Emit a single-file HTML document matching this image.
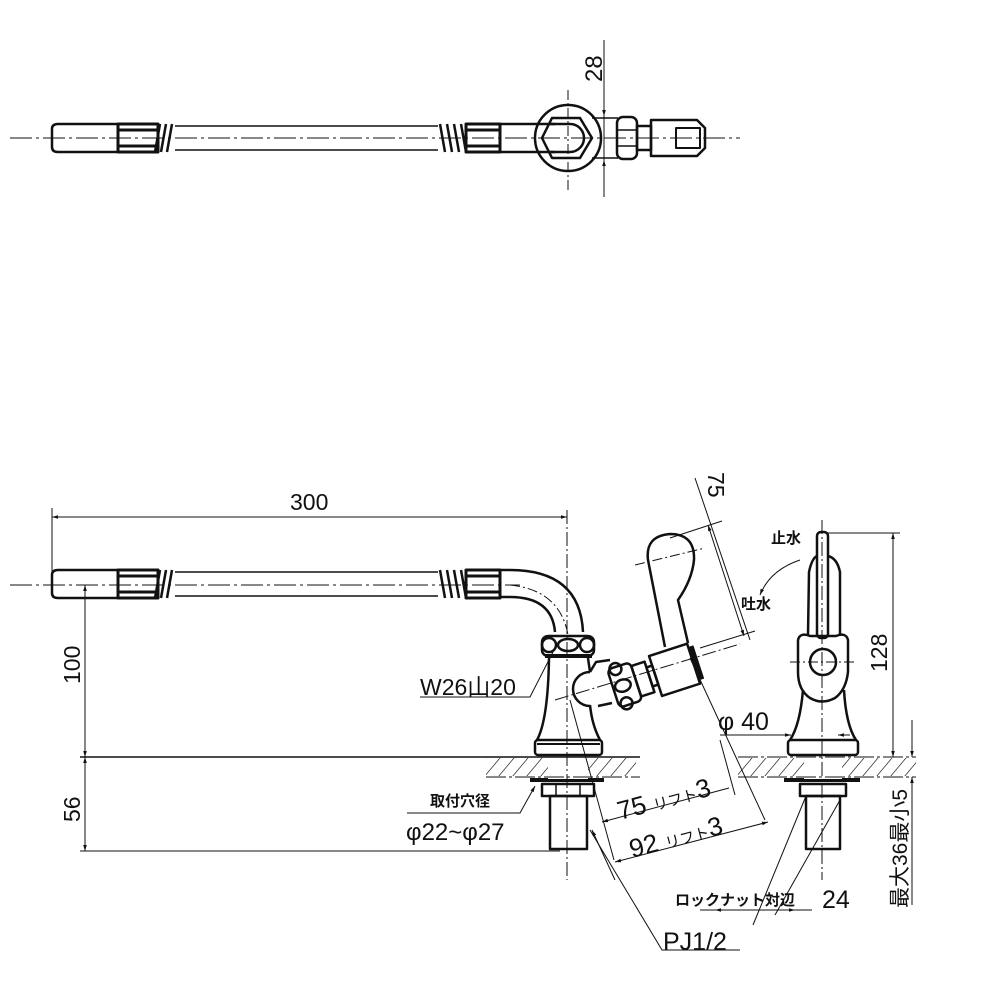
<!DOCTYPE html>
<html><head><meta charset="utf-8"><style>
html,body{margin:0;padding:0;background:#fff;}
svg{display:block;}
text{font-family:"Liberation Sans","Noto Sans CJK JP",sans-serif;fill:#111;}
</style></head><body>
<svg width="1000" height="1000" viewBox="0 0 1000 1000" xmlns="http://www.w3.org/2000/svg">
<defs>
<marker id="a" viewBox="0 0 10 10" refX="10" refY="5" markerWidth="10" markerHeight="6" orient="auto-start-reverse"><path d="M0,2 L10,5 L0,8 z" fill="#111"/></marker>
<pattern id="h" width="14" height="20" patternUnits="userSpaceOnUse" patternTransform="skewX(-40)"><line x1="2" y1="0" x2="2" y2="20" stroke="#333" stroke-width="1"/></pattern>
</defs>
<g fill="none" stroke="#111" stroke-width="3" stroke-linejoin="round">
<!-- TOP VIEW -->
<path d="M58,124 h60 v28 h-60 q-6,0 -6,-5 v-18 q0,-5 6,-5z" stroke-width="2.5"/>
<rect x="118" y="124" width="40" height="28" fill="#fff"/>
<line x1="118" y1="130" x2="158" y2="130" stroke-width="3"/><line x1="118" y1="146" x2="158" y2="146" stroke-width="3"/>
<path d="M160,124 l-5,28 M166,124 l-5,28 M172,124 l-5,28" stroke-width="2.5"/>
<line x1="175" y1="126" x2="438" y2="126" stroke-width="1.5"/><line x1="175" y1="150" x2="438" y2="150" stroke-width="1.5"/>
<path d="M440,124 l5,28 M447,124 l5,28 M454,124 l5,28 M461,124 l5,28" stroke-width="2.5"/>
<rect x="466" y="124" width="34" height="28"/>
<line x1="466" y1="130" x2="500" y2="130"/><line x1="466" y1="146" x2="500" y2="146"/>
<line x1="500" y1="124" x2="555" y2="124" stroke-width="2.5"/><line x1="500" y1="152" x2="555" y2="152" stroke-width="2.5"/>
<circle cx="568" cy="138" r="33" stroke-width="2.5"/>
<path d="M552,118 h28 l12,20 l-12,20 h-28 l-10,-20z" stroke-width="2.5"/>
<path d="M550,124 h20 a14,14 0 0 1 0,28 h-20" stroke-width="2.5"/>
<line x1="592" y1="118" x2="618" y2="118" stroke-width="1.5"/><line x1="592" y1="158" x2="618" y2="158" stroke-width="1.5"/>
<rect x="617" y="117" width="20" height="42" rx="6" stroke-width="2.5"/>
<path d="M617,130 h20 M617,146 h20" stroke-width="1.5"/>
<rect x="637" y="126" width="14" height="24" stroke-width="2.5"/>
<path d="M651,120 h46 l8,8 v20 l-8,8 h-46z" stroke-width="2.5"/>
<rect x="676" y="128" width="24" height="20" stroke-width="2"/>
</g>
<g stroke="#111" stroke-width="1" fill="none">
<line x1="10" y1="138" x2="740" y2="138" stroke-dasharray="22,4,3,4"/>
<line x1="568" y1="90" x2="568" y2="190" stroke-dasharray="10,3,2,3"/>
<line x1="604" y1="40" x2="604" y2="197"/>
<line x1="604" y1="80" x2="604" y2="116" marker-end="url(#a)"/>
<line x1="604" y1="196" x2="604" y2="160" marker-end="url(#a)"/>
</g>
<text x="0" y="0" font-size="24" transform="translate(602,82) rotate(-90)">28</text>

<!-- FRONT VIEW -->
<g fill="none" stroke="#111" stroke-width="3" stroke-linejoin="round">
<path d="M58,570 h60 v28 h-60 q-6,0 -6,-5 v-18 q0,-5 6,-5z" stroke-width="2.5"/>
<rect x="118" y="570" width="40" height="28"/>
<line x1="118" y1="576" x2="158" y2="576"/><line x1="118" y1="592" x2="158" y2="592"/>
<path d="M160,570 l-5,28 M166,570 l-5,28 M172,570 l-5,28" stroke-width="2.5"/>
<line x1="175" y1="572" x2="438" y2="572" stroke-width="1.5"/><line x1="175" y1="596" x2="438" y2="596" stroke-width="1.5"/>
<path d="M440,570 l5,28 M447,570 l5,28 M454,570 l5,28 M461,570 l5,28" stroke-width="2.5"/>
<rect x="466" y="570" width="34" height="28"/>
<line x1="466" y1="576" x2="500" y2="576"/><line x1="466" y1="592" x2="500" y2="592"/>
<path d="M500,570 h10 q70,0 73,62 M500,597 h10 q42,0 45,35" stroke-width="2.5"/>
<rect x="542" y="636" width="52" height="20" rx="6" stroke-width="2.5"/>
<circle cx="549" cy="645" r="7" stroke-width="2.5"/><circle cx="587" cy="645" r="7" stroke-width="2.5"/>
<ellipse cx="568" cy="645" rx="10" ry="6" stroke-width="2.5"/>
<line x1="545" y1="656" x2="592" y2="656" stroke-width="4"/>
<path d="M549,658 Q548,720 537,740 M588,658 L590,672 M590,705 Q592,725 600,740" stroke-width="2.5"/>
<path d="M590,672 A17,17 0 0 0 590,706" stroke-width="2.5"/>
<rect x="535" y="740" width="67" height="15" rx="3" stroke-width="2.5"/>
<line x1="537" y1="744" x2="600" y2="744" stroke-width="2"/>
<path d="M590,672 L596,662 L610,660" stroke-width="2.5"/>
<path d="M598,706 L612,703" stroke-width="2.5"/>
<g transform="rotate(-18 640 680)">
<rect x="612" y="660" width="24" height="40" rx="5" stroke-width="2.5"/>
<circle cx="620" cy="662" r="6" stroke-width="2.5"/><circle cx="620" cy="698" r="6" stroke-width="2.5"/>
<ellipse cx="622" cy="680" rx="8" ry="6" stroke-width="2.5"/>
<rect x="636" y="664" width="14" height="32" stroke-width="2.5"/>
<rect x="650" y="670" width="6" height="20" stroke-width="2.5"/>
<rect x="656" y="660" width="40" height="42" stroke-width="2.5"/>
<rect x="696" y="664" width="5" height="34" fill="#111" stroke-width="1"/>
</g>
<path d="M665,647 L648,560 Q645,536 670,534 Q695,534 694,560 Q692,580 678,600 L688,643" stroke-width="2.5"/>
<line x1="530" y1="780" x2="604" y2="780" stroke-width="4"/>
<rect x="542" y="784" width="52" height="12" stroke-width="2.5"/>
<line x1="556" y1="784" x2="556" y2="796" stroke-width="1.5"/><line x1="580" y1="784" x2="580" y2="796" stroke-width="1.5"/>
<rect x="550" y="796" width="37" height="53" stroke-width="2.5"/>
<line x1="555" y1="757" x2="555" y2="778" stroke-width="2"/><line x1="582" y1="757" x2="582" y2="778" stroke-width="2"/>

<!-- SIDE VIEW -->
<rect x="817" y="532" width="11" height="106" rx="4" stroke-width="2.5"/>
<path d="M808,635 L809,572 Q812,558 817,556 M828,556 Q837,558 840,572 L840,635" stroke-width="2.5"/>
<path d="M798,640 Q800,632 810,636 L836,636 Q846,632 848,640 L848,672 Q846,690 835,698 Q822,705 810,698 Q798,690 798,672z" stroke-width="2.5"/>
<circle cx="823" cy="662" r="13" stroke-width="2.5"/>
<path d="M803,690 Q800,725 790,740 M844,690 Q846,725 856,740" stroke-width="2.5"/>
<rect x="788" y="740" width="70" height="15" rx="3" stroke-width="2.5"/>
<line x1="784" y1="780" x2="860" y2="780" stroke-width="4"/>
<rect x="800" y="784" width="46" height="12" stroke-width="2.5"/>
<rect x="806" y="796" width="34" height="53" stroke-width="2.5"/>
<line x1="809" y1="757" x2="809" y2="778" stroke-width="2"/><line x1="837" y1="757" x2="837" y2="778" stroke-width="2"/>
</g>

<rect x="486" y="758" width="150" height="18" fill="url(#h)"/>
<rect x="738" y="758" width="178" height="18" fill="url(#h)"/>
<rect x="548" y="757" width="40" height="22" fill="#fff"/>
<rect x="804" y="757" width="38" height="22" fill="#fff"/>
<g stroke="#111" stroke-width="1" fill="none">
<line x1="80" y1="757" x2="640" y2="757" stroke-width="1.5"/>
<line x1="486" y1="777" x2="640" y2="777" stroke-dasharray="20,3,3,3"/>
<line x1="738" y1="757" x2="916" y2="757" stroke-dasharray="20,3,3,3"/>
<line x1="738" y1="777" x2="916" y2="777" stroke-dasharray="20,3,3,3"/>
<line x1="80" y1="851" x2="560" y2="851"/>
<line x1="10" y1="585" x2="520" y2="585" stroke-dasharray="22,4,3,4"/>
<path d="M510,585 q50,5 58,50" stroke-dasharray="10,3,2,3"/>
<line x1="567" y1="510" x2="567" y2="880" stroke-dasharray="14,3,2,3"/>
<line x1="822" y1="520" x2="822" y2="880" stroke-dasharray="14,3,2,3"/>
<line x1="790" y1="662" x2="855" y2="662" stroke-dasharray="10,3,2,3"/>
<line x1="555" y1="700" x2="740" y2="644" stroke-dasharray="14,3,2,3"/>
<line x1="635" y1="565" x2="705" y2="548" stroke-dasharray="10,3,2,3"/>
<line x1="52" y1="508" x2="52" y2="580"/>
<line x1="52" y1="517" x2="567" y2="517" marker-start="url(#a)" marker-end="url(#a)"/>
<line x1="85" y1="585" x2="85" y2="757" marker-start="url(#a)" marker-end="url(#a)"/>
<line x1="85" y1="757" x2="85" y2="851" marker-start="url(#a)" marker-end="url(#a)"/>
<line x1="695" y1="478" x2="750" y2="640"/>
<line x1="670" y1="538" x2="722" y2="521"/>
<line x1="700" y1="648" x2="755" y2="631"/>
<line x1="708" y1="525" x2="744" y2="636" marker-start="url(#a)" marker-end="url(#a)"/>
<line x1="690" y1="658" x2="765" y2="820"/>
<line x1="570" y1="700" x2="614" y2="860"/>
<line x1="602" y1="822" x2="729" y2="788" marker-start="url(#a)"/>
<line x1="615" y1="862" x2="768" y2="822" marker-start="url(#a)" marker-end="url(#a)"/>
<line x1="720" y1="740" x2="735" y2="795"/>
<line x1="720" y1="735" x2="790" y2="735"/>
<line x1="780" y1="735" x2="791" y2="735" marker-end="url(#a)"/>
<line x1="850" y1="735" x2="838" y2="735" marker-end="url(#a)"/>
<line x1="828" y1="533" x2="900" y2="533"/>
<line x1="893" y1="533" x2="893" y2="757" marker-start="url(#a)" marker-end="url(#a)"/>
<line x1="912" y1="720" x2="912" y2="757" marker-end="url(#a)"/>
<line x1="912" y1="810" x2="912" y2="777" marker-end="url(#a)"/>
<line x1="912" y1="777" x2="912" y2="905"/>
<line x1="700" y1="910" x2="812" y2="910"/>
<line x1="715" y1="910" x2="745" y2="910" marker-start="url(#a)"/>
<line x1="760" y1="910" x2="795" y2="910" marker-end="url(#a)"/>
<line x1="753" y1="925" x2="806" y2="796"/>
<line x1="775" y1="915" x2="840" y2="800"/>
<path d="M590,830 L662,950 L740,950" />
<line x1="615" y1="880" x2="592" y2="830" marker-end="url(#a)"/>
<path d="M420,697 L530,697 L553,652"/>
<path d="M407,813 L520,813 L535,786" marker-end="url(#a)"/>
<path d="M800,560 Q770,570 760,595" marker-end="url(#a)"/>
</g>
<g font-size="23">
<text x="290" y="510">300</text>
<text transform="translate(80,684) rotate(-90)">100</text>
<text transform="translate(80,822) rotate(-90)">56</text>
<text transform="translate(708,472) rotate(90)">75</text>
<text x="420" y="695">W26山20</text>
<text x="718" y="730" font-size="25">φ 40</text>
<text transform="translate(887,672) rotate(-90)">128</text>
<text x="406" y="840" font-size="24">φ22~φ27</text>
<text transform="translate(620,820) rotate(-15)" font-size="26">75 <tspan font-size="15">リフト</tspan>3</text>
<text transform="translate(632,858) rotate(-15)" font-size="26">92 <tspan font-size="15">リフト</tspan>3</text>
<text x="822" y="908" font-size="25">24</text>
<text x="663" y="950" font-size="25">PJ1/2</text>
<text transform="translate(907,908) rotate(-90)" font-size="21">最大36最小5</text>
</g>
<g font-size="15" font-weight="bold">
<text x="430" y="806">取付穴径</text>
<text x="771" y="543">止水</text>
<text x="741" y="609">吐水</text>
<text x="675" y="905">ロックナット対辺</text>
</g>
</svg>
</body></html>
